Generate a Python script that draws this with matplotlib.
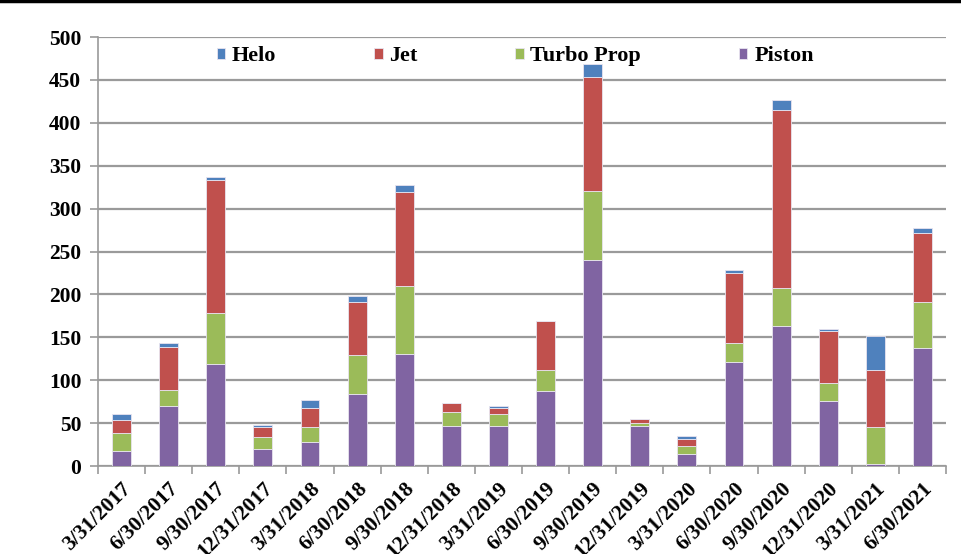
import numpy as np
import matplotlib
matplotlib.use("Agg")
import matplotlib.pyplot as plt
from matplotlib.lines import Line2D

# Quarter-end dates
dates = ["3/31/2017", "6/30/2017", "9/30/2017", "12/31/2017", "3/31/2018",
         "6/30/2018", "9/30/2018", "12/31/2018", "3/31/2019", "6/30/2019",
         "9/30/2019", "12/31/2019", "3/31/2020", "6/30/2020", "9/30/2020",
         "12/31/2020", "3/31/2021", "6/30/2021"]

# Stacked values, bottom to top
piston = [18, 70, 119, 20, 28, 84, 131, 47, 47, 88, 240, 47, 14, 121, 163, 76, 2, 138]
turbo = [20, 19, 59, 14, 18, 45, 79, 16, 14, 24, 80, 3, 9, 22, 44, 21, 43, 53]
jet = [16, 50, 155, 11, 22, 62, 109, 10, 7, 57, 133, 5, 9, 82, 208, 60, 67, 80]
helo = [7, 4, 4, 3, 9, 7, 9, 0, 2, 0, 16, 0, 3, 4, 12, 3, 39, 6]

plt.rcParams["font.family"] = ["Liberation Serif", "DejaVu Serif"]
plt.rcParams["font.weight"] = "bold"

fig = plt.figure(figsize=(9.62, 5.54), dpi=100)
ax = fig.add_axes([0.1019, 0.1588, 0.8815, 0.7744])

x = np.arange(len(dates))
w = 0.4
edge = dict(edgecolor="#e8e4f0", linewidth=0.6)
b1 = ax.bar(x, piston, w, color="#8064A2", label="Piston", zorder=3, **edge)
bottom = np.array(piston)
b2 = ax.bar(x, turbo, w, bottom=bottom, color="#9BBB59", label="Turbo Prop", zorder=3, **edge)
bottom = bottom + np.array(turbo)
b3 = ax.bar(x, jet, w, bottom=bottom, color="#C0504D", label="Jet", zorder=3, **edge)
bottom = bottom + np.array(jet)
b4 = ax.bar(x, helo, w, bottom=bottom, color="#4F81BD", label="Helo", zorder=3, **edge)

ax.set_xlim(-0.5, len(dates) - 0.5)
ax.set_ylim(0, 500)
ax.set_yticks(range(0, 501, 50))
ax.grid(axis="y", color="#9a9a9a", linewidth=1.6, zorder=0)

ax.set_xticks(x)
ax.set_xticklabels(dates, rotation=45, ha="right", rotation_mode="anchor",
                   fontsize=15.5, fontweight="bold")
ax.set_xticks(np.arange(-0.5, len(dates), 1), minor=True)
ax.tick_params(axis="x", which="major", length=0, pad=9)
ax.tick_params(axis="x", which="minor", length=6, width=1.2, color="#9a9a9a")
ax.tick_params(axis="y", length=6, width=1.2, color="#9a9a9a", labelsize=15.5, pad=6)
for lab in ax.get_yticklabels():
    lab.set_fontweight("bold")

for s in ["top", "right"]:
    ax.spines[s].set_visible(False)
for s in ["left", "bottom"]:
    ax.spines[s].set_color("#9a9a9a")
    ax.spines[s].set_linewidth(1.2)

ax.legend(handles=[b4, b3, b2, b1], loc="upper center", bbox_to_anchor=(0.492, 1.025),
          ncol=4, frameon=False, columnspacing=4.4,
          handlelength=0.38, handleheight=0.38, handletextpad=0.3,
          prop={"weight": "bold", "size": 16})

# black rule at the very top of the image
fig.add_artist(Line2D([0, 1], [0.998, 0.998], color="black", linewidth=2.5,
                      transform=fig.transFigure))

fig.savefig("out.png", dpi=100)
